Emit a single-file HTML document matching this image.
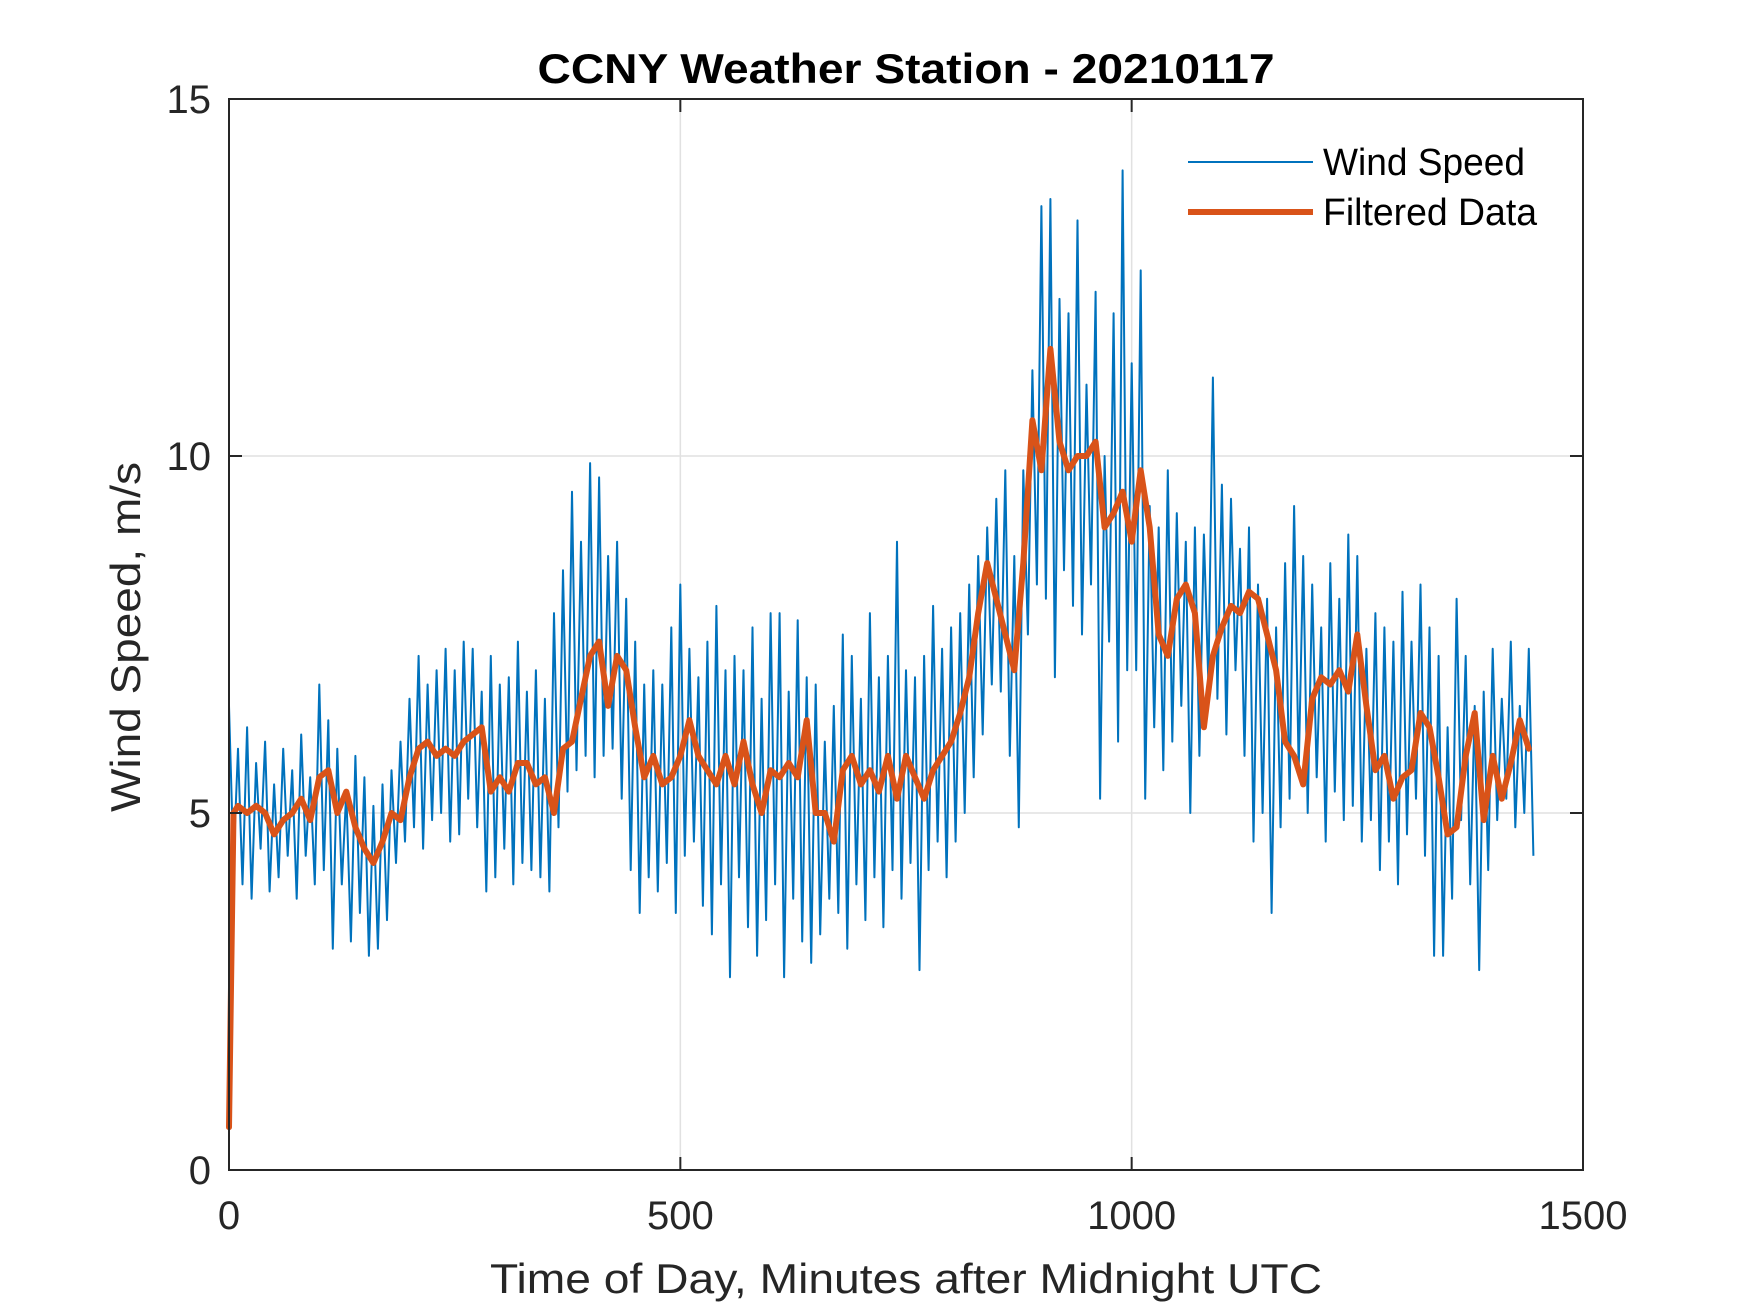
<!DOCTYPE html>
<html><head><meta charset="utf-8"><style>
html,body{margin:0;padding:0;background:#fff;}
svg{display:block;font-family:"Liberation Sans",Arial,sans-serif;}
</style></head><body>
<svg id="chart" width="1750" height="1313" viewBox="0 0 1750 1313">
<rect x="0" y="0" width="1750" height="1313" fill="#fff"/>
<g id="grid"></g>
<g id="plot"></g>
<g id="axes"></g>
<text x="906" y="83" text-anchor="middle" font-size="42" font-weight="bold" fill="#000" textLength="737" lengthAdjust="spacingAndGlyphs">CCNY Weather Station - 20210117</text>
<text x="906" y="1293" text-anchor="middle" font-size="42" fill="#262626" textLength="832" lengthAdjust="spacingAndGlyphs">Time of Day, Minutes after Midnight UTC</text>
<text transform="translate(140,637) rotate(-90)" text-anchor="middle" font-size="42" fill="#262626" textLength="350" lengthAdjust="spacingAndGlyphs">Wind Speed, m/s</text>
<g>
<line x1="1188" y1="162" x2="1313" y2="162" stroke="#0072BD" stroke-width="2"/>
<text x="1323" y="175" font-size="38" fill="#000" textLength="202" lengthAdjust="spacingAndGlyphs">Wind Speed</text>
<line x1="1188" y1="212" x2="1313" y2="212" stroke="#D95319" stroke-width="6"/>
<text x="1323" y="225" font-size="38" fill="#000" textLength="214" lengthAdjust="spacingAndGlyphs">Filtered Data</text>
</g>
</svg>
<script>
const xTicks = [0, 500, 1000, 1500];
const yTicks = [0, 5, 10, 15];
const windStep = 5;
const windSpeed = [
6.5,4.3,5.9,4.0,6.2,3.8,5.7,4.5,6.0,3.9,
5.4,4.1,5.9,4.4,5.6,3.8,6.1,4.4,5.5,4.0,
6.8,4.2,6.3,3.1,5.9,4.0,5.3,3.2,5.8,3.6,
5.5,3.0,5.1,3.1,5.4,3.5,5.6,4.3,6.0,4.6,
6.6,4.8,7.2,4.5,6.8,4.9,7.0,5.0,7.3,4.6,
7.0,4.7,7.4,5.2,7.3,4.8,6.7,3.9,7.2,4.1,
6.8,4.5,6.9,4.0,7.4,4.3,6.7,4.2,7.0,4.1,
6.6,3.9,7.8,4.8,8.4,5.3,9.5,5.6,8.8,5.8,
9.9,5.5,9.7,5.8,8.6,5.9,8.8,5.2,8.0,4.2,
7.4,3.6,6.8,4.1,7.0,3.9,6.8,4.3,7.6,3.6,
8.2,4.4,7.3,4.6,6.9,3.7,7.4,3.3,7.9,4.0,
7.0,2.7,7.2,4.1,7.0,3.4,7.6,3.0,6.6,3.5,
7.8,4.0,7.8,2.7,6.7,3.8,7.7,3.2,6.9,2.9,
6.8,3.3,6.0,3.8,6.5,3.6,7.5,3.1,7.2,4.0,
6.6,3.5,7.8,4.1,6.9,3.4,7.2,4.2,8.8,3.8,
7.0,4.3,6.9,2.8,7.2,4.2,7.9,4.6,7.3,4.1,
7.6,4.6,7.8,5.0,8.2,5.5,8.6,6.1,9.0,6.8,
9.4,6.7,9.8,5.8,8.6,4.8,9.8,7.5,11.2,8.2,
13.5,8.0,13.6,6.9,12.2,8.4,12.0,7.9,13.3,7.5,
11.0,8.2,12.3,5.2,10.0,7.4,12.0,6.0,14.0,7.0,
11.3,7.0,12.6,5.2,9.3,6.2,9.0,5.6,9.8,6.0,
9.2,6.5,8.8,5.0,9.0,5.8,8.9,6.8,11.1,6.6,
9.6,6.1,9.4,7.0,8.7,5.8,9.0,4.6,8.2,5.0,
8.0,3.6,7.6,4.8,8.5,5.2,9.3,5.6,8.6,5.0,
8.2,5.5,7.6,4.6,8.5,5.3,8.0,4.9,8.9,5.1,
8.6,4.6,7.3,4.9,7.8,4.2,7.6,4.6,7.4,4.0,
8.1,4.7,7.4,5.2,8.2,4.4,7.6,3.0,7.2,3.0,
6.2,3.8,8.0,4.9,7.2,4.0,6.5,2.8,6.7,4.2,
7.3,4.9,6.6,5.2,7.4,4.8,6.5,5.0,7.3,4.4
];
const filteredTimes = [0,5,10,20,30,40,50,60,70,80,90,100,110,120,130,140,150,160,170,180,190,200,210,220,230,240,250,260,270,280,290,300,310,320,330,340,350,360,370,380,390,400,410,420,430,440,450,460,470,480,490,500,510,520,530,540,550,560,570,580,590,600,610,620,630,640,650,660,670,680,690,700,710,720,730,740,750,760,770,780,790,800,810,820,830,840,850,860,870,880,890,900,910,920,930,940,950,960,970,980,990,1000,1010,1020,1030,1040,1050,1060,1070,1080,1090,1100,1110,1120,1130,1140,1150,1160,1170,1180,1190,1200,1210,1220,1230,1240,1250,1260,1270,1280,1290,1300,1310,1320,1330,1340,1350,1360,1370,1380,1390,1400,1410,1420,1430,1440];
const filteredData = [0.6,5.0,5.1,5.0,5.1,5.0,4.7,4.9,5.0,5.2,4.9,5.5,5.6,5.0,5.3,4.8,4.5,4.3,4.6,5.0,4.9,5.5,5.9,6.0,5.8,5.9,5.8,6.0,6.1,6.2,5.3,5.5,5.3,5.7,5.7,5.4,5.5,5.0,5.9,6.0,6.6,7.2,7.4,6.5,7.2,7.0,6.2,5.5,5.8,5.4,5.5,5.8,6.3,5.8,5.6,5.4,5.8,5.4,6.0,5.4,5.0,5.6,5.5,5.7,5.5,6.3,5.0,5.0,4.6,5.6,5.8,5.4,5.6,5.3,5.8,5.2,5.8,5.5,5.2,5.6,5.8,6.0,6.4,6.9,7.8,8.5,8.0,7.5,7.0,8.5,10.5,9.8,11.5,10.2,9.8,10.0,10.0,10.2,9.0,9.2,9.5,8.8,9.8,9.0,7.5,7.2,8.0,8.2,7.8,6.2,7.2,7.6,7.9,7.8,8.1,8.0,7.5,7.0,6.0,5.8,5.4,6.6,6.9,6.8,7.0,6.7,7.5,6.5,5.6,5.8,5.2,5.5,5.6,6.4,6.2,5.5,4.7,4.8,5.8,6.4,4.9,5.8,5.2,5.7,6.3,5.9];

const L=229, R=1583, T=99, B=1170;
function sx(v){return L+(v-0)/(1500-0)*(R-L);}
function sy(v){return B-(v-0)/(15-0)*(B-T);}
const NS='http://www.w3.org/2000/svg';
function mk(tag,attrs,parent){const e=document.createElementNS(NS,tag);for(const k in attrs)e.setAttribute(k,attrs[k]);parent.appendChild(e);return e;}
const grid=document.getElementById('grid'), plot=document.getElementById('plot'), axes=document.getElementById('axes');

xTicks.forEach(t=>{
  const g=mk('line',{x1:sx(t),x2:sx(t),y1:T,y2:B,stroke:'#e1e1e1','stroke-width':1.5},grid);
  
  
  const k1=mk('line',{x1:sx(t),x2:sx(t),y1:B,y2:B-13,stroke:'#262626','stroke-width':2},axes);
  
  
  const k2=mk('line',{x1:sx(t),x2:sx(t),y1:T,y2:T+13,stroke:'#262626','stroke-width':2},axes);
  
  
  const lb=mk('text',{x:sx(t),y:1229,'text-anchor':'middle','font-size':40,fill:'#262626'},axes);
  lb.textContent=String(t);
  
  
});
yTicks.forEach(t=>{
  const g=mk('line',{x1:L,x2:R,y1:sy(t),y2:sy(t),stroke:'#e1e1e1','stroke-width':1.5},grid);
  
  
  const k1=mk('line',{x1:L,x2:L+13,y1:sy(t),y2:sy(t),stroke:'#262626','stroke-width':2},axes);
  
  
  const k2=mk('line',{x1:R,x2:R-13,y1:sy(t),y2:sy(t),stroke:'#262626','stroke-width':2},axes);
  
  
  const lb=mk('text',{x:211,y:sy(t)+14,'text-anchor':'end','font-size':40,fill:'#262626'},axes);
  lb.textContent=String(t);
  
  
});
const box=mk('rect',{x:L,y:T,width:R-L,height:B-T,fill:'none',stroke:'#262626','stroke-width':2},axes);



const wp=windSpeed.map((v,i)=>sx(i*windStep).toFixed(1)+','+sy(v).toFixed(1)).join(' ');
const w=mk('polyline',{points:wp,fill:'none',stroke:'#0072BD','stroke-width':2,'stroke-linejoin':'round'},plot);


const fp=filteredData.map((v,i)=>sx(filteredTimes[i]).toFixed(1)+','+sy(v).toFixed(1)).join(' ');
const f=mk('polyline',{points:fp,fill:'none',stroke:'#D95319','stroke-width':6,'stroke-linejoin':'round','stroke-linecap':'round'},plot);


</script>
</body></html>
